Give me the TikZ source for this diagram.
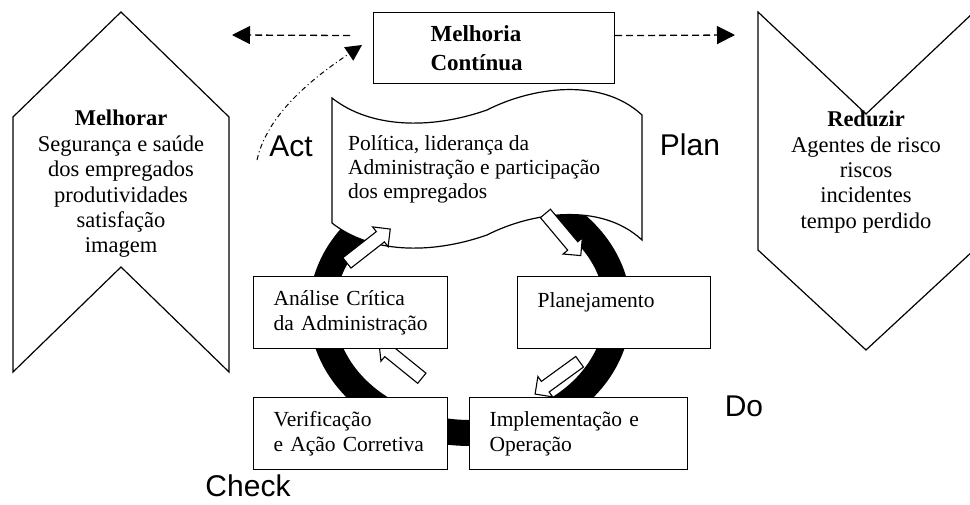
\documentclass[tikz,border=0pt]{standalone}
\usepackage{fontspec}
\setmainfont{Liberation Serif}
\newfontfamily\phasefont{Liberation Sans}
\usetikzlibrary{arrows.meta,shapes.arrows}

\begin{document}
\begin{tikzpicture}[x=1pt, y=-1pt,
    outline/.style={draw, line width=1.2pt, line join=miter},
    box/.style={outline, fill=white, align=left, anchor=north west, inner xsep=20pt, inner ysep=0pt, minimum height=72pt, font=\fontsize{21.5}{25}\selectfont},
    sidetext/.style={align=center, inner sep=0pt, font=\fontsize{22.5}{25.4}\selectfont},
    phase/.style={inner sep=0pt, font=\phasefont\fontsize{30}{30}\selectfont},
    hollow/.style={single arrow, draw, fill=white, line width=1.1pt, minimum height=55pt, inner sep=6pt, single arrow head extend=6pt},
    dasharrow/.style={line width=1.3pt, dash pattern=on 7pt off 4pt, -{Triangle[length=18pt,width=18pt]}},
    dotarrow/.style={line width=1pt, dash pattern=on 5pt off 3pt on 1pt off 3pt, -{Triangle[length=16pt,width=16pt]}},
    ring/.style={line width=26pt}
  ]
    \useasboundingbox (0,0) rectangle (970,505);
    % side chevrons
    \draw[outline] (121,12) -- (229,117) -- (229,372) -- (121,267) -- (13,372) -- (13,117) -- cycle;
    \draw[outline] (758,12) -- (866,114) -- (974,12) -- (974,250) -- (866,350) -- (758,250) -- cycle;
    \node[sidetext] (improve) at (121,184) {\textbf{Melhorar}\\Segurança e saúde\\dos empregados\\produtividades\\satisfação\\imagem};
    \node[sidetext] (reduce) at (866,172) {\textbf{Reduzir}\\Agentes de risco\\riscos\\incidentes\\tempo perdido};
    % cycle ring and policy banner
    \draw[ring] (470,310) ellipse [x radius=148pt, y radius=123pt];
    \draw[outline, fill=white] (332,98) .. controls (370,128) and (430,130) .. (487,110)
      .. controls (530,88) and (600,76) .. (642,115) -- (642,240)
      .. controls (600,201) and (530,213) .. (487,235)
      .. controls (430,255) and (370,253) .. (332,223) -- cycle;
    \node[align=left, anchor=west, inner sep=0pt, font=\fontsize{21.5}{24}\selectfont] (policy) at (348,169) {Política, liderança da\\Administração e participação\\dos empregados};
    \node[hollow, rotate=38] (toact) at (366,248) {};
    \node[hollow, rotate=-50] (toplan) at (561,232) {};
    \node[hollow, rotate=-144] (todo) at (560,376) {};
    \node[hollow, rotate=141] (tocheck) at (403,363) {};
    % boxes
    \node[box, text width=154pt] (review) at (253,276) {Análise Crítica\\\mbox{da Administração}};
    \node[box, text width=153pt] (planning) at (517,276) {Planejamento\\\mbox{}};
    \node[box, text width=154pt] (checking) at (253,397) {Verificação\\\mbox{e Ação Corretiva}};
    \node[box, text width=178pt] (operation) at (469,397) {Implementação e\\Operação};
    \node[outline, align=left, text width=127pt, inner xsep=57pt, minimum height=71pt, anchor=north west, font=\bfseries\fontsize{23}{29}\selectfont] (goal) at (373,12) {Melhoria\\Contínua};
    % phase labels
    \node[phase] (act) at (291,146) {Act};
    \node[phase] (plan) at (690,145) {Plan};
    \node[phase] (do) at (744,406) {Do};
    \node[phase] (check) at (248,486) {Check};
    % arrows
    \coordinate (leftend) at (232,35);
    \coordinate (rightend) at (735,35);
    \coordinate (actstart) at (257,160);
    \coordinate (actend) at (362,45);
    \draw[dasharrow, shorten <=23pt] ([yshift=12.5pt]goal.west) -- (leftend);
    \draw[dasharrow] ([yshift=12.5pt]goal.east) -- (rightend);
    \draw[dotarrow] (actstart) .. controls (268,110) and (322,72) .. (actend);
  \end{tikzpicture}
\end{document}
